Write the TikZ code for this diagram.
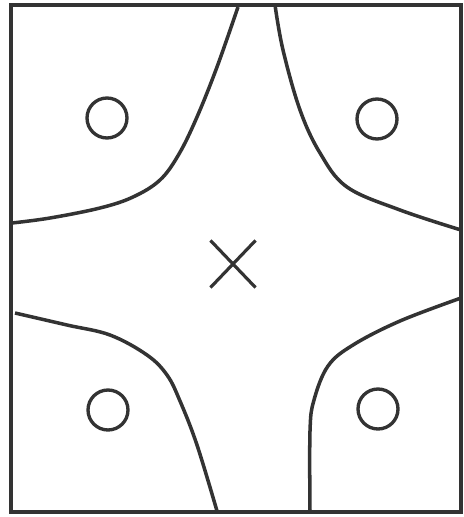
\documentclass[tikz,border=0pt]{standalone}
\usepackage{tikz}
\usetikzlibrary{shapes.misc}
\definecolor{mink}{HTML}{333333}
\tikzset{
  frame/.style={draw=mink, line width=2.6pt},
  bound/.style={draw=mink, line width=2pt, line join=round},
  omark/.style={circle, draw=mink, line width=1.9pt, minimum size=0.8cm, inner sep=0pt},
  xmark/.style={cross out, draw=mink, line width=1.8pt, minimum width=0.84cm, minimum height=0.88cm, inner sep=0pt},
}
\begin{document}
\begin{tikzpicture}[x=0.02cm, y=-0.02cm]
  \useasboundingbox (0,0) rectangle (463,517);

  % Frame
  \draw[frame] (11,5) rectangle (461,512);

  % Boundaries
  \draw[bound] plot[smooth, tension=0.6] coordinates {(238,7) (217,67) (197,117) (179,154) (160,180) (133,197) (100,208) (50,218) (12,223)};
  \draw[bound] plot[smooth, tension=0.6] coordinates {(275,5) (283,50) (300,110) (320,153) (347,187) (400,210) (461,230)};
  \draw[bound] plot[smooth, tension=0.6] coordinates {(15,313) (67,325) (110,335) (147,355) (167,375) (180,401) (197,445) (217,511)};
  \draw[bound] plot[smooth, tension=0.6] coordinates {(461,298) (400,321) (353,345) (328,366) (314,400) (310,431) (310,511)};

  % Class marks
  \node[omark] (o1) at (107,118) {};
  \node[omark] (o2) at (377,119) {};
  \node[omark] (o3) at (108,410) {};
  \node[omark] (o4) at (378,409) {};
  \node[xmark] (x1) at (233,264) {};
\end{tikzpicture}
\end{document}
